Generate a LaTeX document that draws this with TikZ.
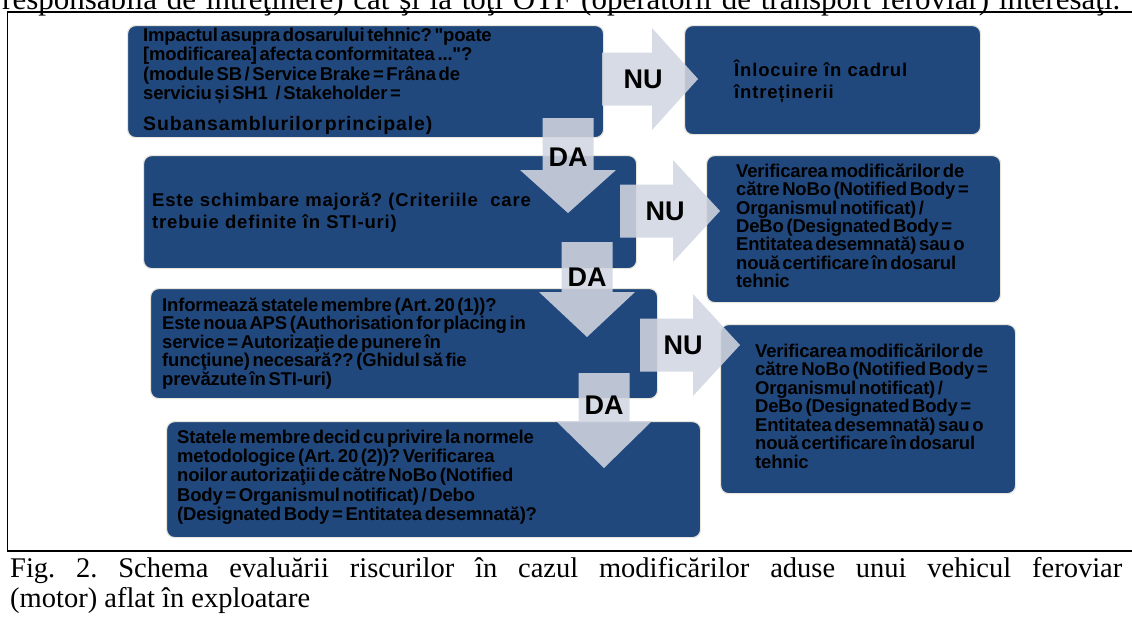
\documentclass[tikz,border=0pt]{standalone}
\usepackage{fontspec}
\setmainfont{Liberation Serif}
\newfontfamily\boxfont[LetterSpace=-1]{Liberation Sans Bold}
\newfontfamily\boxfontwide[LetterSpace=4.5]{Liberation Sans Bold}
\newfontfamily\labelfont{Liberation Sans Bold}
\definecolor{boxblue}{RGB}{33,72,125}
\definecolor{boxedge}{RGB}{232,230,220}
\definecolor{arrowgrey}{RGB}{210,214,225}
\frenchspacing

% block arrow pointing right: start x, centre y, head base x, tip x
\newcommand{\blockright}[4]{%
  \fill[arrowshade] (#1,#2-26.5) -- (#3,#2-26.5) -- (#3,#2-51) -- (#4,#2)
    -- (#3,#2+51) -- (#3,#2+26.5) -- (#1,#2+26.5) -- cycle;}
% block arrow pointing down: centre x, top y, head base y, tip y
\newcommand{\blockdown}[4]{%
  \fill[arrowshade] (#1-25.5,#2) -- (#1+25.5,#2) -- (#1+25.5,#3) -- (#1+48,#3)
    -- (#1,#4) -- (#1-48,#3) -- (#1-25.5,#3) -- cycle;}

\tikzset{
  box/.style={rectangle, rounded corners=8pt, fill=boxblue, draw=boxedge,
    line width=1.2pt, inner sep=0pt, anchor=north west},
  btext/.style={anchor=base west, inner sep=0pt, align=left, text width=460pt,
    text=black, font=\boxfont\fontsize{18.5}{#1}\selectfont,
    execute at begin node={\spaceskip=2.6pt plus 1pt minus 0.5pt\relax}},
  btext/.default=18.5,
  btextwide/.style={anchor=base west, inner sep=0pt, align=left, text width=460pt,
    text=black, font=\boxfontwide\fontsize{18.5}{22}\selectfont},
  arrowshade/.style={fill=arrowgrey, fill opacity=0.88},
  yesno/.style={inner sep=0pt, text=black, font=\labelfont\fontsize{27}{27}\selectfont},
  rule/.style={line width=1.8pt, black},
}

\begin{document}
\begin{tikzpicture}[x=1pt,y=-1pt]
\useasboundingbox (0,0) rectangle (1132,622);

% running text above the figure
\node[anchor=base west, inner sep=0pt] (prevline) at (2,9.5)
  {\fontsize{31}{34}\selectfont\makebox[1118pt][s]{responsabilă de întreţinere) cât şi la toţi OTF (operatorii de transport feroviar) interesaţi.}};

% figure frame
\draw[rule] (7,12) -- (1132,12);
\draw[line width=1.2pt] (7.5,12) -- (7.5,551);
\draw[rule] (7,551) -- (1132,551);

% decision boxes
\node[box, minimum width=476pt, minimum height=112pt] (b1) at (127,25) {};
\node[box, minimum width=296pt, minimum height=109pt] (b2) at (684,25) {};
\node[box, minimum width=493pt, minimum height=113pt] (b3) at (143,155) {};
\node[box, minimum width=294pt, minimum height=147pt] (b4) at (706,155) {};
\node[box, minimum width=507pt, minimum height=110pt] (b5) at (150,288) {};
\node[box, minimum width=295pt, minimum height=169pt] (b6) at (720,324) {};
\node[box, minimum width=534pt, minimum height=116pt] (b7) at (166,421) {};

% box texts
\node[btext=19.5] (t1) at (143,41) {Impactul asupra dosarului tehnic? "poate\\
{[}modificarea{]} afecta conformitatea ..."?\\
(module SB / Service Brake = Frâna de\\
serviciu și SH1\ \ \ / Stakeholder =\\[11pt]
{\boxfontwide\fontsize{19.5}{20}\selectfont\spaceskip=2.8pt\relax Subansamblurilor principale)}};

\node[btextwide] (t2) at (734,76) {Înlocuire în cadrul\\ întreținerii};

\node[btextwide] (t3) at (152,206) {Este schimbare majoră? (Criteriile\ \ care\\
trebuie definite în STI-uri)};

\node[btext=18.3] (t4) at (736,177.5) {Verificarea modificărilor de\\
către NoBo (Notified Body =\\
Organismul notificat) /\\
DeBo (Designated Body =\\
Entitatea desemnată) sau o\\
nouă certificare în dosarul\\
tehnic};

\node[btext=18.4] (t5) at (162,311.5) {Informează statele membre (Art. 20 (1))?\\
Este noua APS (Authorisation for placing in\\
service = Autorizaţie de punere în\\
funcţiune) necesară?? (Ghidul să fie\\
prevăzute în STI-uri)};

\node[btext=18.5] (t6) at (755,357) {Verificarea modificărilor de\\
către NoBo (Notified Body =\\
Organismul notificat) /\\
DeBo (Designated Body =\\
Entitatea desemnată) sau o\\
nouă certificare în dosarul\\
tehnic};

\node[btext=19.2] (t7) at (177,443.5) {Statele membre decid cu privire la normele\\
metodologice (Art. 20 (2))? Verificarea\\
noilor autorizaţii de către NoBo (Notified\\
Body = Organismul notificat) / Debo\\
(Designated Body = Entitatea desemnată)?};

% NU branches
\blockright{602}{79}{652}{698}
\blockright{620}{211}{673}{720}
\blockright{640}{345}{693}{740}
% DA branches
\blockdown{568}{118}{170}{213}
\blockdown{587}{242}{292}{337}
\blockdown{604}{373}{421}{468}

\node[yesno] (nu1) at (643,79) {NU};
\node[yesno] (nu2) at (665,211) {NU};
\node[yesno] (nu3) at (683,345) {NU};
\node[yesno] (da1) at (568,157) {DA};
\node[yesno] (da2) at (587,277) {DA};
\node[yesno] (da3) at (604,405) {DA};

% caption
\node[anchor=base west, inner sep=0pt] (cap1) at (10,577)
  {\fontsize{28.5}{30}\selectfont\makebox[1112pt][s]{Fig. 2. Schema evaluării riscurilor în cazul modificărilor aduse unui vehicul feroviar}};
\node[anchor=base west, inner sep=0pt] (cap2) at (10,607)
  {\fontsize{28.5}{30}\selectfont (motor) aflat în exploatare};
\end{tikzpicture}
\end{document}
